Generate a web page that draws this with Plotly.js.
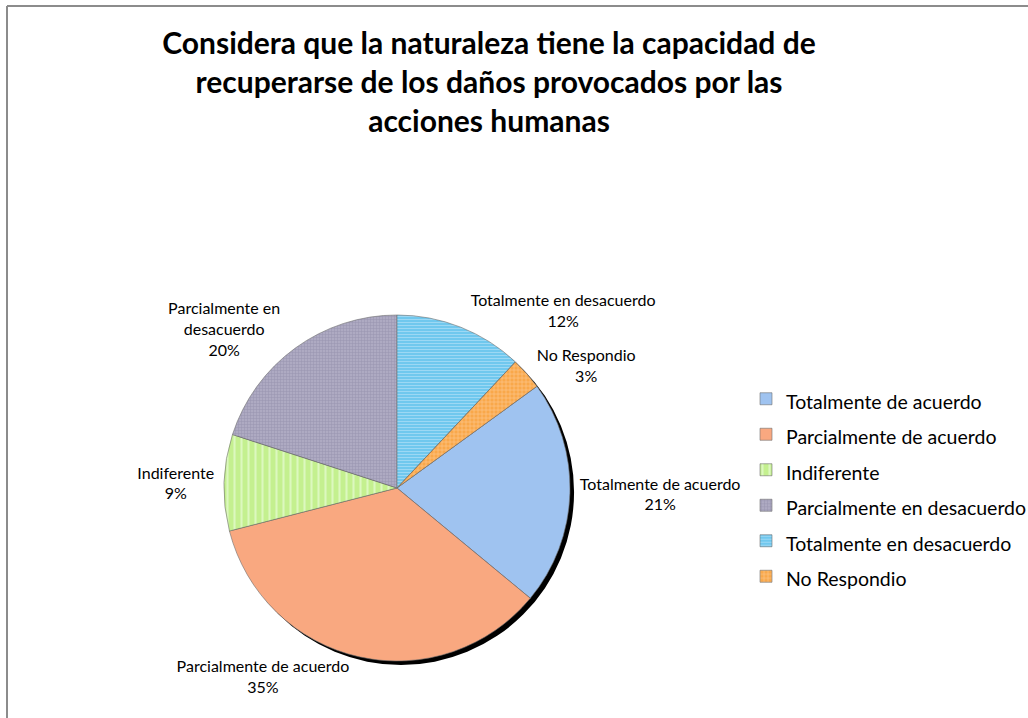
<!DOCTYPE html>
<html>
<head>
<meta charset="utf-8">
<script src="https://cdn.plot.ly/plotly-3.0.1.min.js"></script>
<style>
  html, body { margin: 0; padding: 0; background: #ffffff; }
  #chart { width: 1028px; height: 718px; }
</style>
</head>
<body>
<div id="chart"></div>
<script>
// ---- data ----
const categories = [
  "Totalmente de acuerdo",
  "Parcialmente de acuerdo",
  "Indiferente",
  "Parcialmente en desacuerdo",
  "Totalmente en desacuerdo",
  "No Respondio"
];
const displayLabels = [
  "Totalmente de acuerdo",
  "Parcialmente de acuerdo",
  "Indiferente",
  "Parcialmente en<br>desacuerdo",
  "Totalmente en desacuerdo",
  "No Respondio"
];
const percentValues = [21, 35, 9, 20, 12, 3];
const chartTitle = "Considera que la naturaleza tiene la capacidad de<br>recuperarse de los daños provocados por las<br>acciones humanas";

// ---- styles ----
const sliceColors = ["#9fc3f0", "#f9a880", "#c4f08f", "#aeaac2", "#70c8ee", "#f9a84a"];
const patternShapes = ["", "", "|", "+", "-", "+"];
const patternFg = ["#b6d2f4", "#fbb898", "#dcf8bf", "#9995ae", "#a2daf5", "#fcc68a"];
const patternSizes = [4, 4, 7, 3, 3, 4];

const W = 1028, H = 718;
const cx = 397, cy = 488, r = 173;
const dom = {
  x: [(cx - r) / W, (cx + r) / W],
  y: [1 - (cy + r) / H, 1 - (cy - r) / H]
};
const sh = 4;

const shadow = {
  type: "pie",
  values: [1],
  labels: ["shadow"],
  marker: { colors: ["#000000"], line: { width: 0 } },
  textinfo: "none",
  hoverinfo: "skip",
  showlegend: false,
  sort: false,
  domain: { x: [dom.x[0] + sh / W, dom.x[1] + sh / W], y: [dom.y[0] - sh / H, dom.y[1] - sh / H] }
};

const pie = {
  type: "pie",
  labels: categories,
  values: percentValues,
  text: displayLabels,
  texttemplate: "%{text}<br>%{percent:.0%}",
  textposition: "outside",
  textfont: { family: "Lato, sans-serif", size: 16, color: "#000000" },
  sort: false,
  direction: "clockwise",
  rotation: 54,
  marker: {
    colors: sliceColors,
    line: { color: "#6f6f6f", width: 0.6 },
    pattern: { shape: patternShapes, fgcolor: patternFg, bgcolor: sliceColors, size: patternSizes, solidity: 0.3 }
  },
  hoverinfo: "skip",
  domain: dom,
  automargin: false
};

const legendFontSize = 19.5;

const layout = {
  width: W,
  height: H,
  margin: { l: 0, r: 0, t: 0, b: 0, autoexpand: false },
  paper_bgcolor: "#ffffff",
  plot_bgcolor: "#ffffff",
  font: { family: "Lato, sans-serif", color: "#000000" },
  title: {
    text: chartTitle,
    font: { family: "Lato, sans-serif", size: 30, color: "#000000", weight: "bold" },
    x: 489 / W,
    xanchor: "center",
    y: 1 - 54 / H,
    yanchor: "top",
    xref: "paper",
    yref: "paper"
  },
  showlegend: true,
  legend: {
    x: 746 / W,
    y: 1 - 376 / H,
    xanchor: "left",
    yanchor: "top",
    font: { family: "Lato, sans-serif", size: 25, color: "#000000" },
    bgcolor: "rgba(0,0,0,0)",
    traceorder: "normal"
  },
  shapes: [
    { type: "line", xref: "paper", yref: "paper", x0: 7 / W, x1: 1.01, y0: 1 - 6 / H, y1: 1 - 6 / H, line: { color: "#8c8c8c", width: 2 } },
    { type: "line", xref: "paper", yref: "paper", x0: 7 / W, x1: 7 / W, y0: -0.01, y1: 1 - 6 / H, line: { color: "#8c8c8c", width: 2 } }
  ]
};

Plotly.newPlot("chart", [shadow, pie], layout, { staticPlot: true, displayModeBar: false }).then(function () {
  // smaller label text inside the taller legend rows
  document.querySelectorAll(".legendtext").forEach(function (t) {
    t.style.fontSize = legendFontSize + "px";
  });
});
</script>
</body>
</html>
